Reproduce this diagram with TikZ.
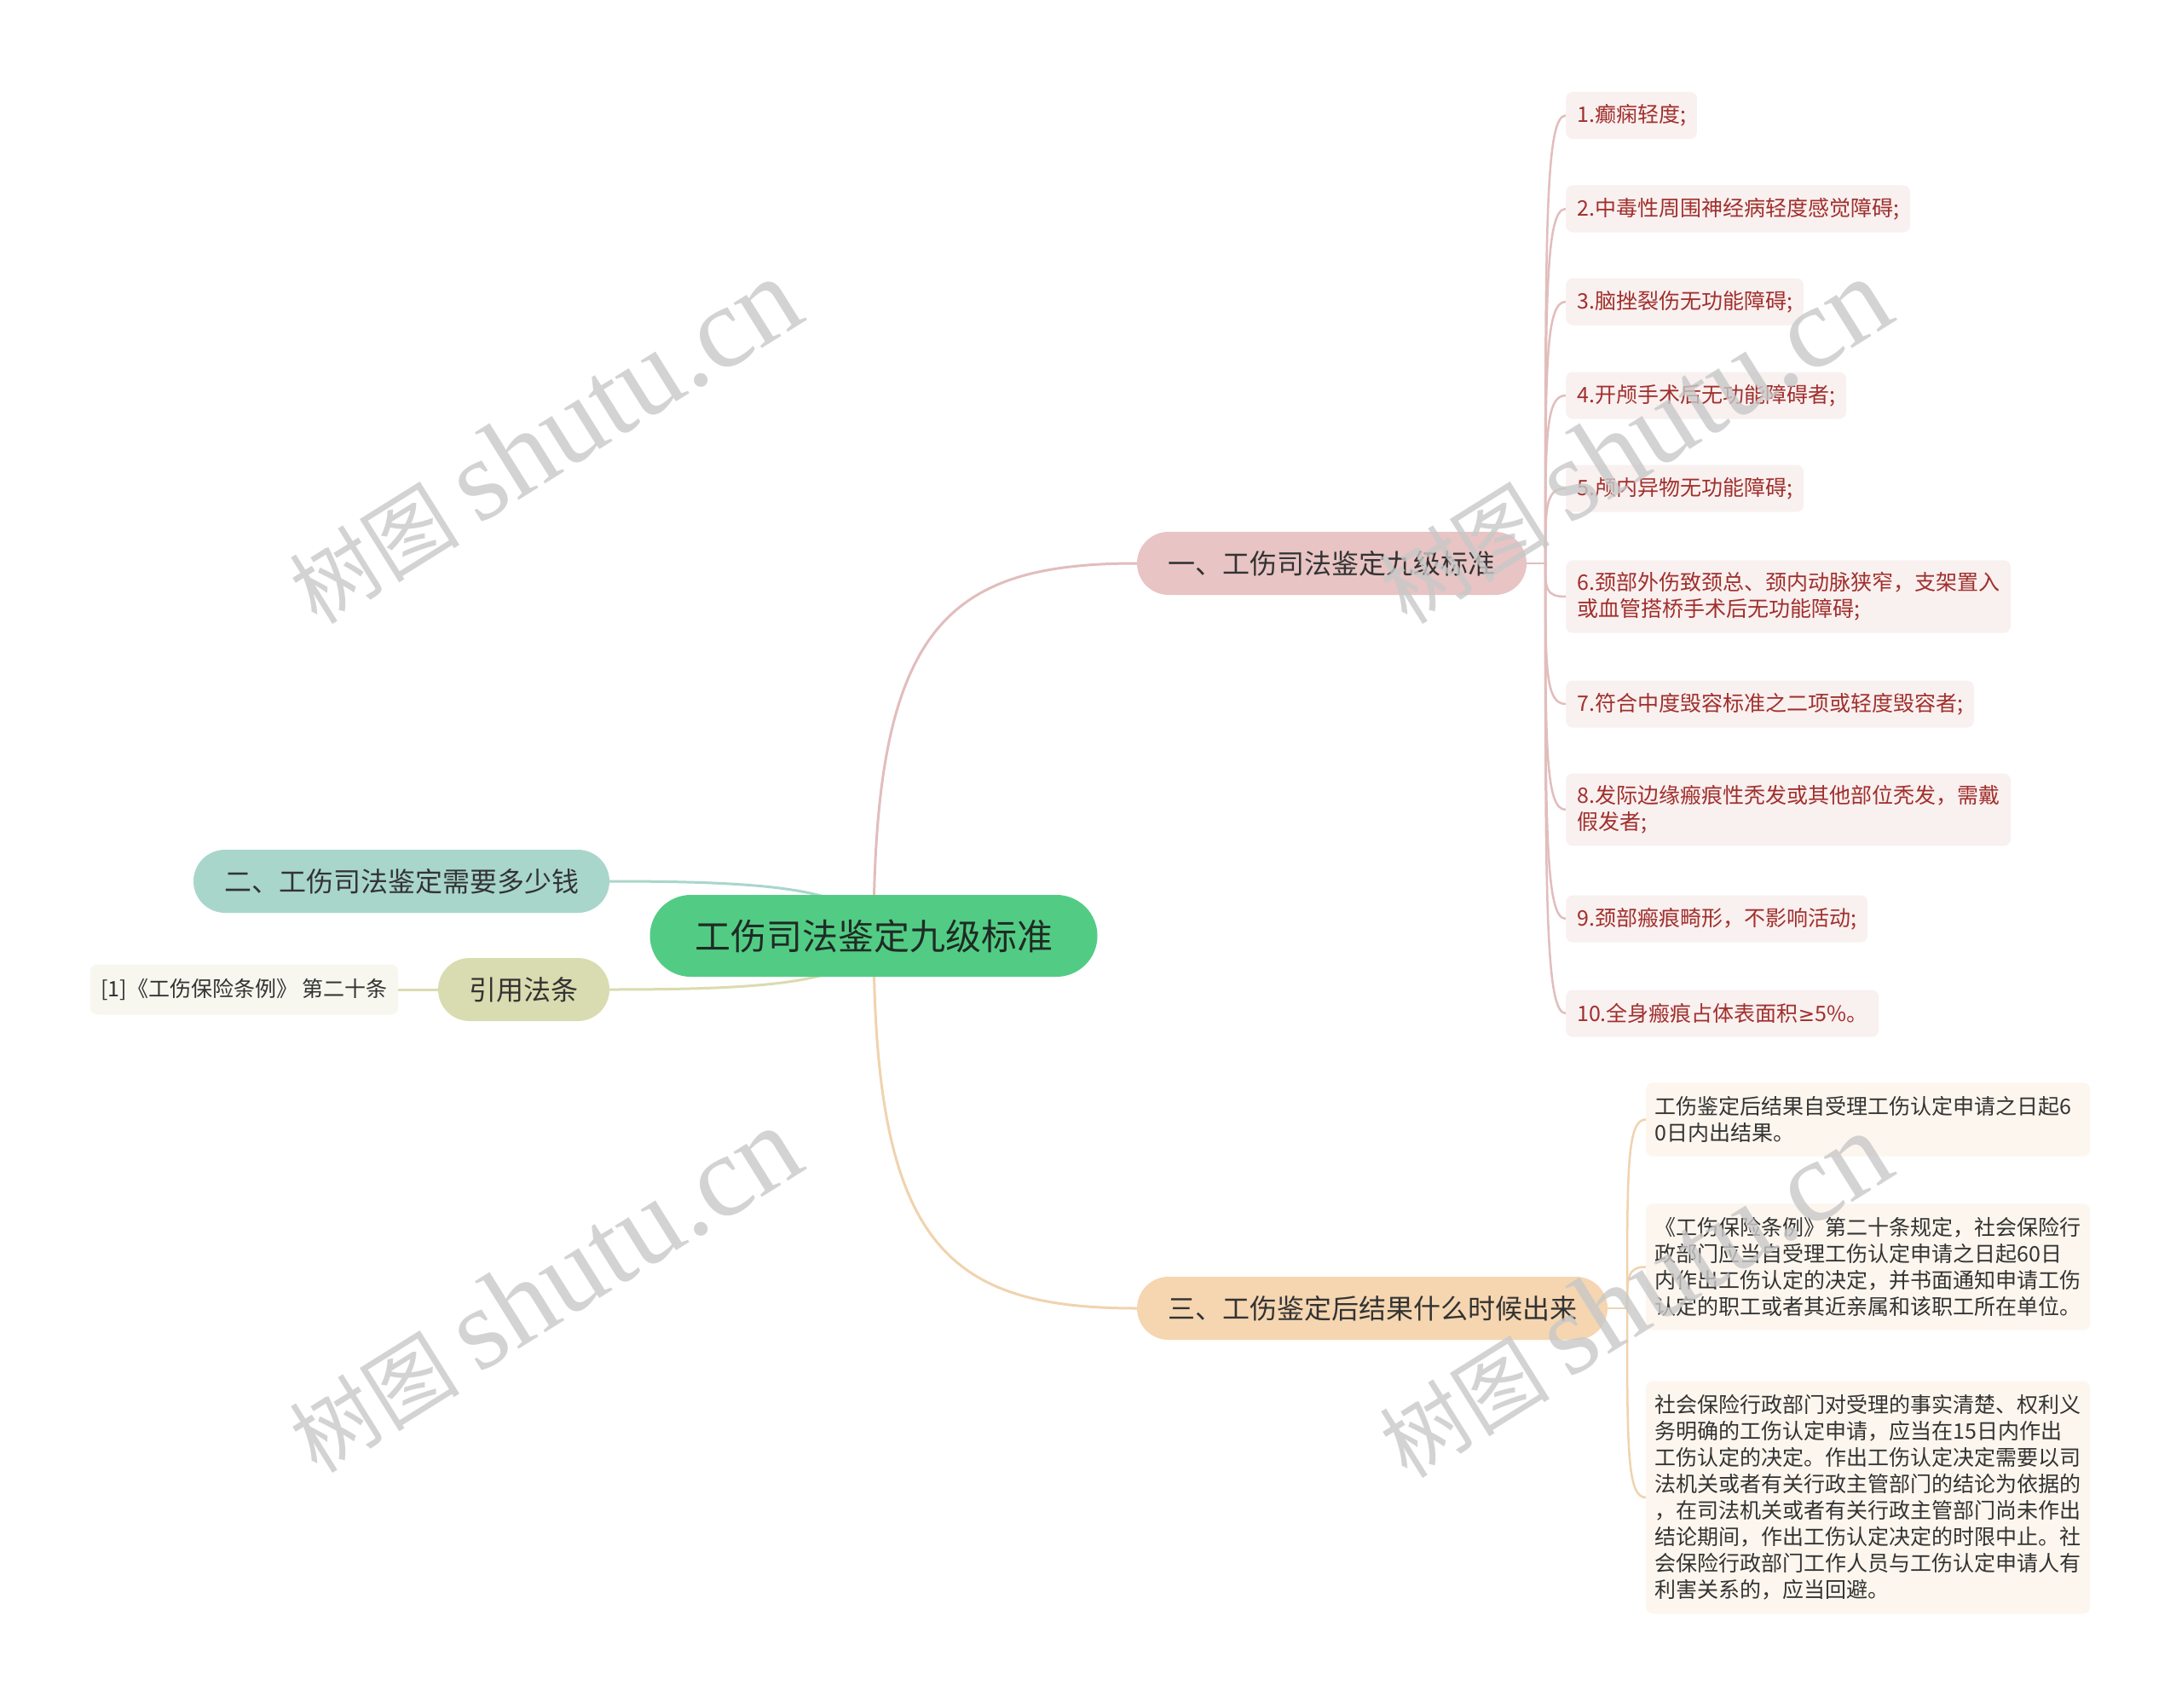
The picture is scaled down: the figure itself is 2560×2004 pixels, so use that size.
\documentclass[tikz,border=0pt]{standalone}
\usepackage{fontspec}
\usetikzlibrary{backgrounds}
\newfontfamily\cjk{Noto Sans CJK SC}
\newfontfamily\wmserif{Liberation Serif}
\newfontfamily\dejavu{DejaVu Sans}
\definecolor{rootfill}{HTML}{52CC84}
\definecolor{roottext}{HTML}{1F2B24}
\definecolor{pinkfill}{HTML}{E8C4C4}
\definecolor{pinkline}{HTML}{E2BDBD}
\definecolor{pinkleaf}{HTML}{F9F0F0}
\definecolor{pinktext}{HTML}{A0302C}
\definecolor{tealfill}{HTML}{A9D6CB}
\definecolor{olivefill}{HTML}{D9DCB0}
\definecolor{oliveleaf}{HTML}{F7F7EF}
\definecolor{orangefill}{HTML}{F5D6B1}
\definecolor{orangeline}{HTML}{F0D3AE}
\definecolor{orangeleaf}{HTML}{FDF6EE}
\definecolor{darktext}{HTML}{333333}
\definecolor{wmgray}{HTML}{C8C8C8}
\begin{document}
\begin{tikzpicture}[x=1pt,y=-1pt,
  rootbox/.style={fill=rootfill, rounded corners=48pt, minimum width=525pt, minimum height=96pt, inner sep=0pt, font=\cjk\fontsize{42}{50}\selectfont, text=roottext},
  branch/.style={rounded corners=37pt, minimum height=74pt, inner sep=0pt, font=\cjk\fontsize{32}{38}\selectfont, text=darktext},
  pleaf/.style={fill=pinkleaf, rounded corners=8pt, anchor=west, align=left, inner xsep=13pt, inner ysep=14pt, minimum height=55pt, font=\cjk\fontsize{25}{31}\selectfont, text=pinktext},
  oleaf/.style={fill=orangeleaf, rounded corners=8pt, anchor=west, align=left, text width=500pt, inner xsep=10.5pt, inner ysep=16pt, font=\cjk\fontsize{25}{31}\selectfont, text=darktext},
  mainline/.style={line width=3pt, line cap=round},
  leafline/.style={line width=2.5pt, line cap=round},
  wm/.style={rotate=32, text=wmgray, opacity=0.8, inner sep=0pt},
  wmtext/.style={font=\fontsize{100}{120}\selectfont\cjk}
]
\useasboundingbox (0,0) rectangle (2560,2004);

% main nodes
\node[rootbox] (root) at (1025,1098) {工伤司法鉴定九级标准};
\node[branch, fill=pinkfill, minimum width=457pt] (b1) at (1562.5,661) {一、工伤司法鉴定九级标准};
\node[branch, fill=tealfill, minimum width=488pt] (b2) at (471,1034) {二、工伤司法鉴定需要多少钱};
\node[branch, fill=olivefill, minimum width=201pt] (bc) at (614.5,1161) {引用法条};
\node[branch, fill=orangefill, minimum width=552pt] (b3) at (1610,1535) {三、工伤鉴定后结果什么时候出来};
\node[fill=oliveleaf, rounded corners=8pt, minimum width=361pt, minimum height=59pt, inner sep=0pt, font=\cjk\fontsize{25}{30}\selectfont, text=darktext] (lc) at (286.5,1161) {[1]《工伤保险条例》 第二十条};

% pink leaves
\node[pleaf] (p1) at (1837,135.5) {1.癫痫轻度;};
\node[pleaf] (p2) at (1837,245) {2.中毒性周围神经病轻度感觉障碍;};
\node[pleaf] (p3) at (1837,354) {3.脑挫裂伤无功能障碍;};
\node[pleaf] (p4) at (1837,464) {4.开颅手术后无功能障碍者;};
\node[pleaf] (p5) at (1837,573) {5.颅内异物无功能障碍;};
\node[pleaf] (p6) at (1837,700) {6.颈部外伤致颈总、颈内动脉狭窄，支架置入\\或血管搭桥手术后无功能障碍;};
\node[pleaf] (p7) at (1837,826) {7.符合中度毁容标准之二项或轻度毁容者;};
\node[pleaf] (p8) at (1837,950) {8.发际边缘瘢痕性秃发或其他部位秃发，需戴\\假发者;};
\node[pleaf] (p9) at (1837,1078) {9.颈部瘢痕畸形，不影响活动;};
\node[pleaf] (p10) at (1837,1189) {10.全身瘢痕占体表面积{\dejavu\fontsize{23}{31}\selectfont ≥}5\%。};

% orange leaves
\node[oleaf] (o1) at (1931,1313.5) {工伤鉴定后结果自受理工伤认定申请之日起6\\0日内出结果。};
\node[oleaf] (o2) at (1931,1486.5) {《工伤保险条例》第二十条规定，社会保险行\\政部门应当自受理工伤认定申请之日起60日\\内作出工伤认定的决定，并书面通知申请工伤\\认定的职工或者其近亲属和该职工所在单位。};
\node[oleaf] (o3) at (1931,1757) {社会保险行政部门对受理的事实清楚、权利义\\务明确的工伤认定申请，应当在15日内作出\\工伤认定的决定。作出工伤认定决定需要以司\\法机关或者有关行政主管部门的结论为依据的\\，在司法机关或者有关行政主管部门尚未作出\\结论期间，作出工伤认定决定的时限中止。社\\会保险行政部门工作人员与工伤认定申请人有\\利害关系的，应当回避。};

\begin{pgfonlayer}{background}
  \fill[white] (0,0) rectangle (2560,2004);
  % root connectors
  \draw[mainline, pinkline] (root.center) .. controls (1025,735) and (1110,661) .. (b1.west);
  \draw[mainline, orangeline] (root.center) .. controls (1025,1461) and (1110,1535) .. (b3.west);
  \draw[mainline, tealfill] (b2.east) .. controls (920,1034) and (1010,1045) .. (root.center);
  \draw[mainline, olivefill] (bc.east) .. controls (920,1161) and (1010,1151) .. (root.center);
  \draw[mainline, olivefill] (lc.east) -- (bc.west);
  % pink trunk
  \coordinate (pj) at (1813,661);
  \draw[leafline, pinkline] (b1.east) -- (pj);
  \foreach \n/\y in {p1/135.5,p2/245,p3/354,p4/464,p5/573,p6/700,p7/826,p8/950,p9/1078,p10/1189}{
    \draw[leafline, pinkline] (pj) .. controls (1813,{661+0.75*(\y-661)}) and (1813,\y) .. (\n.west);
  }
  % orange trunk
  \coordinate (oj) at (1909,1535);
  \draw[leafline, orangeline] (b3.east) -- (oj);
  \foreach \n/\y in {o1/1313.5,o2/1486.5,o3/1757}{
    \draw[leafline, orangeline] (oj) .. controls (1909,{1535+0.75*(\y-1535)}) and (1909,\y) .. (\n.west);
  }
\end{pgfonlayer}

% watermarks
\node[wm, wmtext] (w1) at (638,518) {树图 \fontsize{136}{140}\selectfont\wmserif shutu.cn};
\node[wm, wmtext] (w2) at (1917,518) {树图 \fontsize{136}{140}\selectfont\wmserif shutu.cn};
\node[wm, wmtext] (w3) at (638,1514) {树图 \fontsize{136}{140}\selectfont\wmserif shutu.cn};
\node[wm, wmtext] (w4) at (1917,1520) {树图 \fontsize{136}{140}\selectfont\wmserif shutu.cn};
\end{tikzpicture}
\end{document}
